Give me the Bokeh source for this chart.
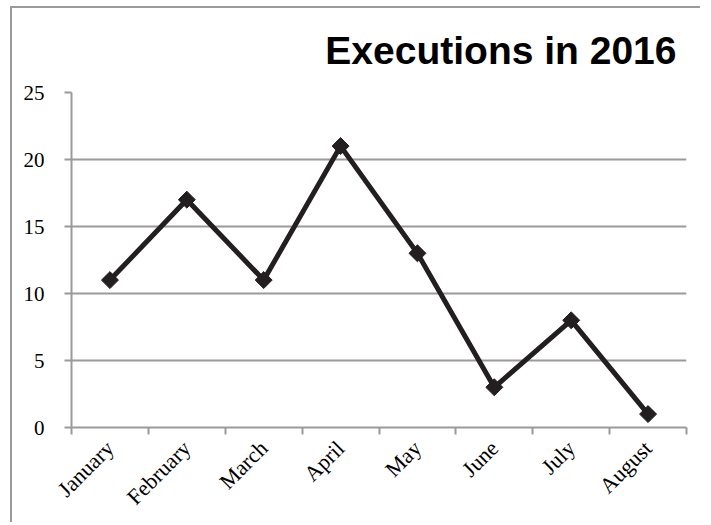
import numpy as np
from bokeh.plotting import figure
from bokeh.models import FixedTicker, Range1d, ColumnDataSource
from bokeh.embed import file_html
from bokeh.resources import INLINE

title_text = "Executions in 2016"
months = ["January", "February", "March", "April", "May", "June", "July", "August"]
executions = [11, 17, 11, 21, 13, 3, 8, 1]
y_ticks = [0, 5, 10, 15, 20, 25]

xpos = [i + 0.5 for i in range(len(months))]
src = ColumnDataSource(dict(x=xpos, y=executions, m=months))

p = figure(width=690, height=516, output_backend="svg", toolbar_location=None,
           x_range=Range1d(0, len(months)), y_range=Range1d(0, max(y_ticks)),
           min_border_left=59, min_border_right=16, min_border_top=84, min_border_bottom=97,
           title=title_text)
p.styles = {"margin-left": "10px", "margin-top": "6px",
            "border-left": "2px solid #9a9a9a", "border-top": "2px solid #9a9a9a"}

p.title.align = "right"
p.title.vertical_align = "top"
p.title.text_font = "Liberation Sans"
p.title.text_font_style = "bold"
p.title.text_font_size = "39px"
p.title.text_color = "#000000"
p.title.standoff = 38
p.title.offset = 10

p.outline_line_color = None
p.background_fill_color = "white"
p.border_fill_color = "white"

grid_col = "#9a9a9a"
p.xgrid.grid_line_color = None
p.ygrid.grid_line_color = grid_col
p.ygrid.grid_line_width = 2

p.yaxis.ticker = FixedTicker(ticks=y_ticks)
p.yaxis.axis_line_color = grid_col
p.yaxis.axis_line_width = 2
p.yaxis.major_tick_line_color = grid_col
p.yaxis.major_tick_line_width = 2
p.yaxis.major_tick_out = 7
p.yaxis.major_tick_in = 0
p.yaxis.minor_tick_line_color = None
p.yaxis.major_label_standoff = 20
p.yaxis.major_label_text_font = "Liberation Serif"
p.yaxis.major_label_text_font_size = "21px"
p.yaxis.major_label_text_color = "#000000"

p.xaxis.ticker = FixedTicker(ticks=xpos, minor_ticks=list(range(len(months) + 1)))
p.xaxis.major_label_overrides = {x: m for x, m in zip(xpos, months)}
p.xaxis.axis_line_color = grid_col
p.xaxis.axis_line_width = 2
p.xaxis.major_tick_line_color = None
p.xaxis.major_tick_out = 0
p.xaxis.major_tick_in = 0
p.xaxis.minor_tick_line_color = grid_col
p.xaxis.minor_tick_line_width = 2
p.xaxis.minor_tick_out = 7
p.xaxis.minor_tick_in = 0
p.xaxis.major_label_orientation = np.pi / 4
p.xaxis.major_label_standoff = 10
p.xaxis.major_label_text_font = "Liberation Serif"
p.xaxis.major_label_text_font_size = "22px"
p.xaxis.major_label_text_color = "#000000"

line_col = "#231f20"
p.line("x", "y", source=src, line_color=line_col, line_width=5, line_join="miter")
p.scatter("x", "y", source=src, marker="square", angle=np.pi / 4, size=12,
          fill_color=line_col, line_color=line_col)

open("out.html", "w").write(file_html(p, INLINE))
